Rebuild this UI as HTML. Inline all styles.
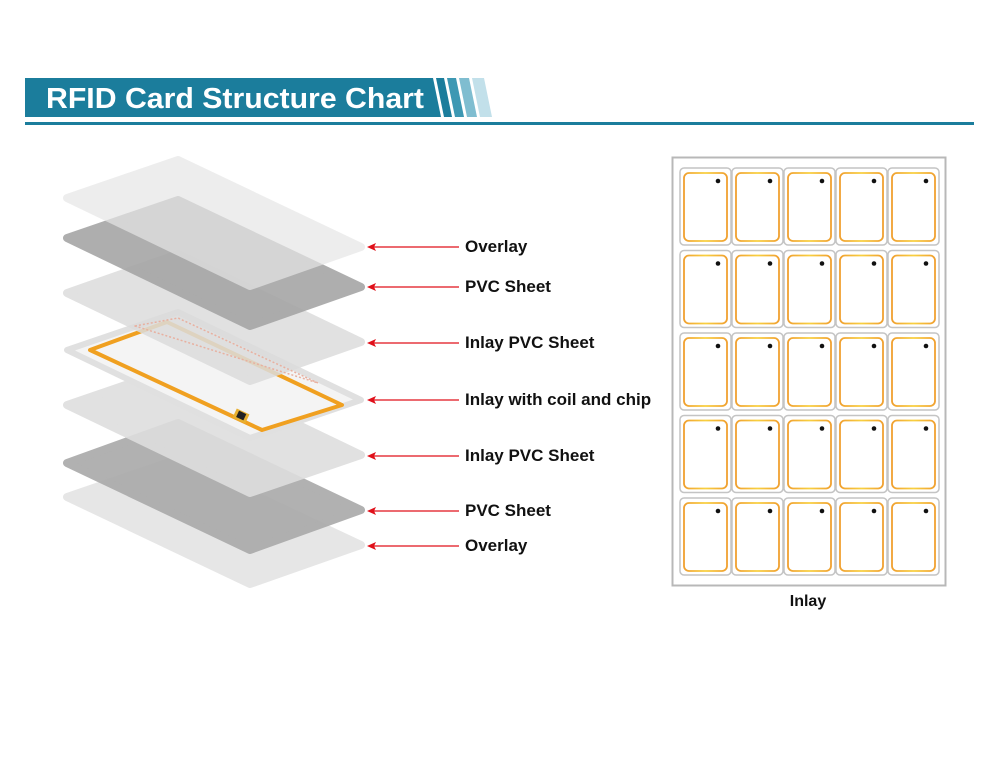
<!DOCTYPE html>
<html><head><meta charset="utf-8"><style>
html,body{margin:0;padding:0;background:#fff;}
svg{display:block;}
text{font-family:"Liberation Sans",Arial,sans-serif;}
</style></head><body>
<svg width="1000" height="772" viewBox="0 0 1000 772" xmlns="http://www.w3.org/2000/svg">
<defs>
<linearGradient id="coil" x1="0" y1="0" x2="1" y2="0">
<stop offset="0" stop-color="#f0a030"/><stop offset="0.5" stop-color="#f8d040"/><stop offset="1" stop-color="#f0a030"/>
</linearGradient>
<g id="cell">
<rect x="0" y="0" width="51" height="77" rx="4" fill="#fff" stroke="#c4c4c4" stroke-width="1.5"/>
<rect x="4" y="5" width="43" height="68" rx="5" fill="none" stroke="url(#coil)" stroke-width="1.8"/>
<circle cx="38" cy="13" r="2.3" fill="#111"/>
</g>
<g id="row">
<use href="#cell" x="0"/><use href="#cell" x="52"/><use href="#cell" x="104"/><use href="#cell" x="156"/><use href="#cell" x="208"/>
</g>
</defs>
<!-- header -->
<polygon points="25,78 433,78 441,117 25,117" fill="#1b7d9c"/>
<polygon points="436,78 444,78 452,117 444,117" fill="#1b7d9c"/>
<polygon points="447,78 456,78 464,117 455,117" fill="#3d98b3"/>
<polygon points="459,78 469,78 477,117 467,117" fill="#7fbdd0"/>
<polygon points="472,78 484,78 492,117 480,117" fill="#c2e0ea"/>
<text x="46" y="108" font-size="29" font-weight="bold" fill="#fff" textLength="378" lengthAdjust="spacingAndGlyphs">RFID Card Structure Chart</text>
<rect x="25" y="122" width="949" height="3" fill="#1b7d9c"/>

<!-- cards, bottom first -->
<g stroke-linejoin="round" stroke-width="8">
<polygon points="67,497 178,459 361,545 250,584" fill="#e4e4e4" stroke="#e4e4e4" opacity="0.9"/>
<polygon points="67,463 178,423 361,510 250,550" fill="#ababab" stroke="#ababab" opacity="0.92"/>
<polygon points="67,405 178,367 361,455 250,493" fill="#dedede" stroke="#dedede" opacity="0.9"/>
<polygon points="67,350 178,312 361,400 250,438" fill="#f4f4f4" stroke="#e0e0e0" stroke-width="6"/>
</g>
<polygon points="90,350 167,322 342,405 262,430" fill="none" stroke="#f0a020" stroke-width="4" stroke-linejoin="round"/>
<rect x="234" y="411" width="14" height="10" fill="#e8b030" transform="rotate(25 241 416)"/>
<rect x="237" y="412" width="8" height="7" fill="#222" transform="rotate(25 241 416)"/>
<g stroke-linejoin="round" stroke-width="8">
<polygon points="67,293 178,254 361,342 250,381" fill="#dcdcdc" stroke="#dcdcdc" opacity="0.85"/>
<polygon points="135,326 178,318 318,383" fill="none" stroke="#e8b0a0" stroke-width="1.5" stroke-dasharray="2,2"/>
<polygon points="67,238 178,200 361,287 250,326" fill="#a6a6a6" stroke="#a6a6a6" opacity="0.9"/>
<polygon points="67,198 178,160 361,247 250,286" fill="#e6e6e6" stroke="#e6e6e6" opacity="0.7"/>
</g>

<!-- arrows and labels -->
<g stroke="#e0101a" stroke-width="1.3" fill="none">
<line x1="459" y1="247" x2="372" y2="247"/>
<line x1="459" y1="287" x2="372" y2="287"/>
<line x1="459" y1="343" x2="372" y2="343"/>
<line x1="459" y1="400" x2="372" y2="400"/>
<line x1="459" y1="456" x2="372" y2="456"/>
<line x1="459" y1="511" x2="372" y2="511"/>
<line x1="459" y1="546" x2="372" y2="546"/>
</g>
<g fill="#e0101a">
<path d="M367,247 l9,-4 l-2,4 l2,4z"/>
<path d="M367,287 l9,-4 l-2,4 l2,4z"/>
<path d="M367,343 l9,-4 l-2,4 l2,4z"/>
<path d="M367,400 l9,-4 l-2,4 l2,4z"/>
<path d="M367,456 l9,-4 l-2,4 l2,4z"/>
<path d="M367,511 l9,-4 l-2,4 l2,4z"/>
<path d="M367,546 l9,-4 l-2,4 l2,4z"/>
</g>
<g font-size="17" font-weight="bold" fill="#111">
<text x="465" y="252">Overlay</text>
<text x="465" y="292">PVC Sheet</text>
<text x="465" y="348">Inlay PVC Sheet</text>
<text x="465" y="405">Inlay with coil and chip</text>
<text x="465" y="461">Inlay PVC Sheet</text>
<text x="465" y="516">PVC Sheet</text>
<text x="465" y="551">Overlay</text>
</g>

<!-- inlay sheet -->
<rect x="672.5" y="157.5" width="273" height="428" fill="#fff" stroke="#b8b8b8" stroke-width="2"/>
<use href="#row" x="680" y="168"/>
<use href="#row" x="680" y="250.5"/>
<use href="#row" x="680" y="333"/>
<use href="#row" x="680" y="415.5"/>
<use href="#row" x="680" y="498"/>
<text x="808" y="606" font-size="16" font-weight="bold" fill="#111" text-anchor="middle">Inlay</text>
</svg>
</body></html>
